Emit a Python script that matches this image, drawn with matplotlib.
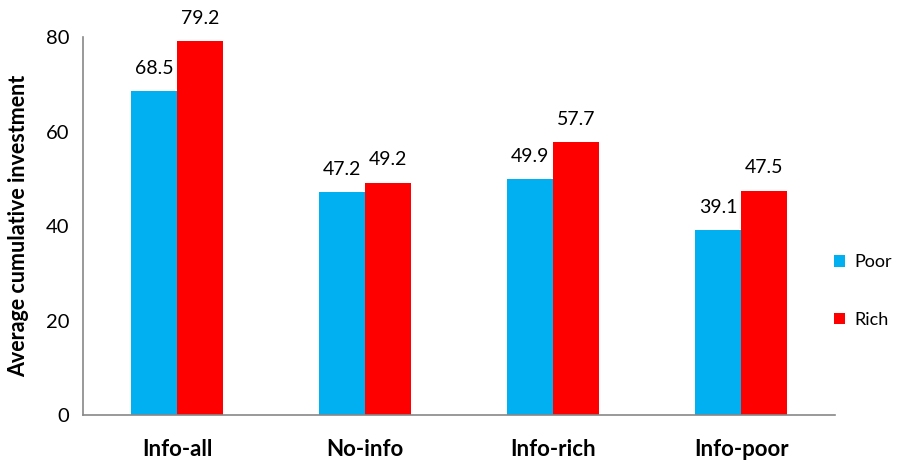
import numpy as np
import matplotlib
matplotlib.use('Agg')
import matplotlib.pyplot as plt

plt.rcParams['font.family'] = ['Lato', 'DejaVu Sans']

# Average cumulative investment by treatment and wealth group
conditions = ['Info-all', 'No-info', 'Info-rich', 'Info-poor']
poor = [68.5, 47.2, 49.9, 39.1]
rich = [79.2, 49.2, 57.7, 47.5]

fig = plt.figure(figsize=(8.99, 4.66), dpi=100)
ax = fig.add_axes([0.0923, 0.1094, 0.8367, 0.8112])

x = np.arange(len(conditions))
w = 0.245
b1 = ax.bar(x - w / 2, poor, w, color='#00b0f0', label='Poor')
b2 = ax.bar(x + w / 2, rich, w, color='#ff0000', label='Rich')

for bars, vals in ((b1, poor), (b2, rich)):
    for bar, v in zip(bars, vals):
        ax.text(bar.get_x() + bar.get_width() / 2, v + 3.0, f'{v:.1f}',
                ha='center', va='bottom', fontsize=14)

ax.set_xlim(-0.5, len(conditions) - 0.5)
ax.set_ylim(0, 80)
ax.set_yticks([0, 20, 40, 60, 80])
ax.set_xticks(x)
ax.set_xticklabels(conditions, fontsize=16, fontweight='bold')
ax.tick_params(axis='y', labelsize=14.5, length=0, pad=10)
ax.tick_params(axis='x', length=0, pad=17)
ax.set_ylabel('Average cumulative investment', fontsize=15.5, fontweight='bold', labelpad=12)

for s in ['top', 'right']:
    ax.spines[s].set_visible(False)
for s in ['left', 'bottom']:
    ax.spines[s].set_color('#888888')
    ax.spines[s].set_linewidth(1.2)

fig.legend(handles=[b1, b2], loc='center left', bbox_to_anchor=(0.91, 0.375),
           frameon=False, fontsize=13, handlelength=0.6, handleheight=0.6,
           labelspacing=2.3, handletextpad=0.5)

fig.savefig('out.png', dpi=100)
